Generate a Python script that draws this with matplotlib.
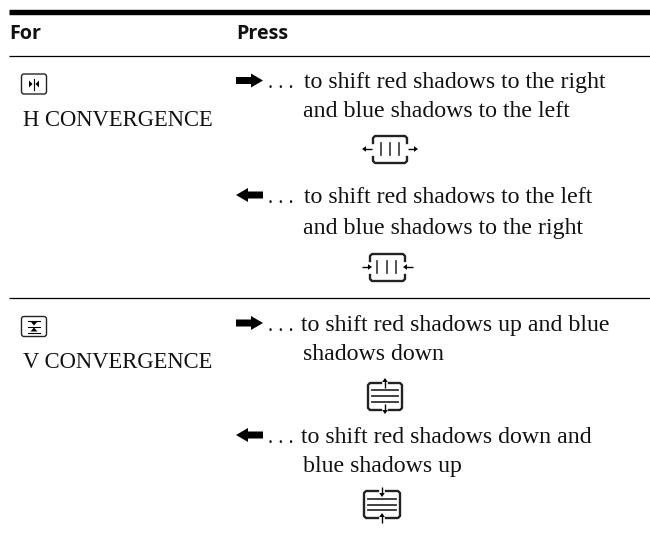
import matplotlib
matplotlib.use("Agg")
import matplotlib.pyplot as plt
from matplotlib.patches import FancyBboxPatch, Polygon

W, H = 650, 536
headers = ["For", "Press"]
header_x = [9, 236]
left_labels = ["H CONVERGENCE", "V CONVERGENCE"]
left_y = [126, 368]
dots = ". . ."
arrow_y = [80.5, 195, 323, 435]
arrow_dirs = [1, -1, 1, -1]
first_lines = ["to shift red shadows to the right", "to shift red shadows to the left",
               "to shift red shadows up and blue", "to shift red shadows down and"]
first_y = [88, 203, 331, 443]
first_x = [303.5, 303.5, 301, 301]
second_lines = ["and blue shadows to the left", "and blue shadows to the right",
                "shadows down", "blue shadows up"]
second_y = [117, 234, 360, 472]

fig = plt.figure(figsize=(6.5, 5.36), dpi=100)
ax = fig.add_axes([0, 0, 1, 1])
ax.set_xlim(0, W)
ax.set_ylim(H, 0)
ax.axis("off")

SERIF = "Liberation Serif"
K = "#111111"
BODY = 17.2

ax.plot([8.5, 650], [11.5, 11.5], color="black", lw=3.9, solid_capstyle="butt")
ax.plot([8.5, 650], [56, 56], color="black", lw=0.9, solid_capstyle="butt")
ax.plot([8.5, 650], [298, 298], color="black", lw=0.9, solid_capstyle="butt")

for s, x in zip(headers, header_x):
    ax.text(x, 39, s, family="Open Sans", weight="bold", size=14.2, va="baseline", ha="left", color=K)
for s, y in zip(left_labels, left_y):
    ax.text(23, y, s, family=SERIF, size=16.3, va="baseline", ha="left", color=K)
for s, x, y in zip(first_lines, first_x, first_y):
    ax.text(x, y, s, family=SERIF, size=BODY, va="baseline", ha="left", color=K)
for s, y in zip(second_lines, second_y):
    ax.text(303, y, s, family=SERIF, size=BODY, va="baseline", ha="left", color=K)


def big_arrow(y, d):
    x0, x1 = (236, 263) if d > 0 else (263, 236)
    neck = x1 - d * 12
    pts = [(x0, y - 3.5), (neck, y - 3.5), (neck, y - 7), (x1, y), (neck, y + 7), (neck, y + 3.5), (x0, y + 3.5)]
    ax.add_patch(Polygon(pts, closed=True, fc="black", ec="none"))


for d, y, ty in zip(arrow_dirs, arrow_y, first_y):
    big_arrow(y, d)
    ax.text(268.5, ty, dots, family=SERIF, size=14.8, va="baseline", ha="left", color=K)


def key(x, y):
    ax.add_patch(FancyBboxPatch((x, y), 25, 20, boxstyle="round,pad=0,rounding_size=2.5",
                                fc="white", ec="#222222", lw=1.0))


def tri(p, c="black"):
    ax.add_patch(Polygon(p, closed=True, fc=c, ec="none"))


key(21.5, 74)
cx, cy = 34, 84
ax.plot([cx, cx], [cy - 5.5, cy + 5.5], color="black", lw=0.8)
tri([(cx - 5, cy - 3.5), (cx - 1.5, cy), (cx - 5, cy + 3.5)])
tri([(cx + 5, cy - 3.5), (cx + 1.5, cy), (cx + 5, cy + 3.5)])

key(21.5, 316.5)
cx, cy = 34, 326.5
ax.plot([cx - 6, cx + 6], [cy, cy], color="black", lw=0.8)
ax.plot([cx - 6, cx + 6], [cy - 6, cy - 6], color="black", lw=0.8)
ax.plot([cx - 6, cx + 6], [cy + 6, cy + 6], color="black", lw=0.8)
tri([(cx - 3.5, cy - 5), (cx + 3.5, cy - 5), (cx, cy - 1)])
tri([(cx - 3.5, cy + 5), (cx + 3.5, cy + 5), (cx, cy + 1)])


def small_h(x, y, d):
    ax.plot([x, x + d * 7], [y, y], color="black", lw=1.0, solid_capstyle="butt")
    tri([(x + d * 10, y), (x + d * 6, y - 2.8), (x + d * 6, y + 2.8)])


def small_v(x, y, d):
    ax.plot([x, x], [y, y + d * 7], color="black", lw=1.0, solid_capstyle="butt")
    tri([(x, y + d * 10), (x - 2.8, y + d * 6), (x + 2.8, y + d * 6)])


def h_icon(xl, xr, ytop, ybot, ym, lines, outward):
    lw = 1.7
    r = 2
    ax.plot([xl, xl, xl + r, xr - r, xr, xr], [ytop + 7, ytop + r, ytop, ytop, ytop + r, ytop + 7], color="#222222", lw=lw)
    ax.plot([xl, xl, xl + r, xr - r, xr, xr], [ybot - 6, ybot - r, ybot, ybot, ybot - r, ybot - 6], color="#222222", lw=lw)
    for x in lines:
        ax.plot([x, x], [ym - 6, ym + 6], color="#333333", lw=1.2)
    if outward:
        small_h(xl - 1, ym, -1)
        small_h(xr + 1, ym, 1)
    else:
        small_h(xl - 8, ym, 1)
        small_h(xr + 8, ym, -1)


def v_icon(xl, xr, ytop, ybot, cx, lines, y_arrow_top, y_arrow_bot, outward):
    lw = 1.7
    ax.plot([cx - 4, xl + 2, xl, xl, xl + 2, cx - 4],
            [ytop, ytop, ytop + 2, ybot - 2, ybot, ybot], color="#222222", lw=lw)
    ax.plot([cx + 4, xr - 2, xr, xr, xr - 2, cx + 4],
            [ytop, ytop, ytop + 2, ybot - 2, ybot, ybot], color="#222222", lw=lw)
    for y in lines:
        ax.plot([xl + 4, xr - 4], [y, y], color="#333333", lw=1.3)
    if outward:
        small_v(cx, y_arrow_top, -1)
        small_v(cx, y_arrow_bot, 1)
    else:
        small_v(cx, y_arrow_top, 1)
        small_v(cx, y_arrow_bot, -1)


h_icon(373, 407, 136, 163, 149, [381, 390, 399], True)
h_icon(370, 405, 254, 281, 267, [377, 387, 396], False)
v_icon(368, 402, 383, 410, 385, [390, 396, 402], 388, 404, True)
v_icon(364, 400, 491, 518, 382, [499, 505, 510], 487, 523, False)

fig.savefig("out.png", dpi=100)
